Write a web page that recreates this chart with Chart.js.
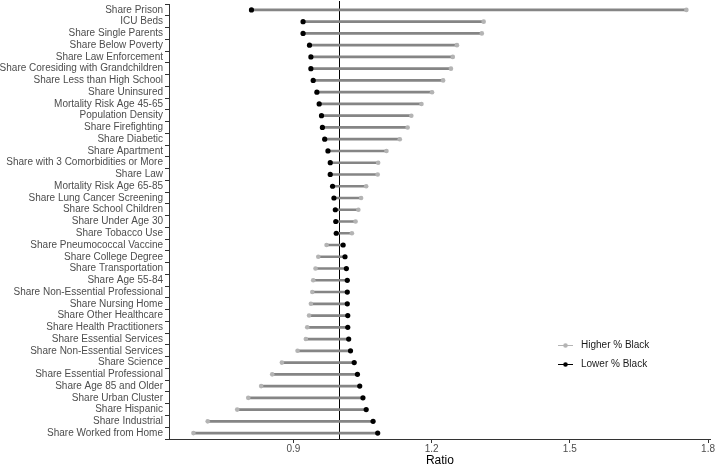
<!DOCTYPE html>
<html>
<head>
<meta charset="utf-8">
<script src="https://cdn.jsdelivr.net/npm/chart.js@4.4.1/dist/chart.umd.min.js"></script>
<style>
  html, body { margin: 0; padding: 0; background: #fff; }
  #wrap { width: 716px; height: 467px; position: relative; }
</style>
</head>
<body>
<div id="wrap"><canvas id="c"></canvas></div>
<script>
// Categorias (de arriba hacia abajo)
const categories = [
  "Share Prison", "ICU Beds", "Share Single Parents", "Share Below Poverty",
  "Share Law Enforcement", "Share Coresiding with Grandchildren", "Share Less than High School",
  "Share Uninsured", "Mortality Risk Age 45-65", "Population Density", "Share Firefighting",
  "Share Diabetic", "Share Apartment", "Share with 3 Comorbidities or More", "Share Law",
  "Mortality Risk Age 65-85", "Share Lung Cancer Screening", "Share School Children",
  "Share Under Age 30", "Share Tobacco Use", "Share Pneumococcal Vaccine", "Share College Degree",
  "Share Transportation", "Share Age 55-84", "Share Non-Essential Professional", "Share Nursing Home",
  "Share Other Healthcare", "Share Health Practitioners", "Share Essential Services",
  "Share Non-Essential Services", "Share Science", "Share Essential Professional",
  "Share Age 85 and Older", "Share Urban Cluster", "Share Hispanic", "Share Industrial",
  "Share Worked from Home"
];

// Ratio, grupo con mayor % de poblacion negra
const higherBlack = [
  1.753, 1.313, 1.309, 1.255, 1.246, 1.242, 1.225, 1.201, 1.178, 1.156, 1.148, 1.131,
  1.102, 1.084, 1.083, 1.058, 1.047, 1.041, 1.035, 1.027, 0.972, 0.954, 0.948, 0.943,
  0.941, 0.938, 0.934, 0.930, 0.927, 0.909, 0.875, 0.854, 0.830, 0.802, 0.778, 0.714, 0.683
];

// Ratio, grupo con menor % de poblacion negra
const lowerBlack = [
  0.809, 0.921, 0.921, 0.935, 0.938, 0.938, 0.943, 0.951, 0.956, 0.961, 0.963, 0.968,
  0.975, 0.980, 0.980, 0.985, 0.988, 0.991, 0.992, 0.993, 1.008, 1.012, 1.015, 1.017,
  1.017, 1.017, 1.018, 1.018, 1.020, 1.024, 1.032, 1.039, 1.044, 1.051, 1.058, 1.073, 1.083
];

const xTicks = [0.9, 1.2, 1.5, 1.8];
const refValue = 1.0;

const FONT = "'Liberation Sans', Arial, sans-serif";
const GREY_PT = "#b4b4b4";
const BLACK_PT = "#000000";

// linea vertical en ratio = 1
const refLine = {
  id: "refLine",
  beforeDatasetsDraw(chart){
    const {ctx, chartArea, scales} = chart;
    const x = Math.round(scales.x.getPixelForValue(refValue)) + 0.5;
    ctx.save();
    ctx.strokeStyle = "#000";
    ctx.lineWidth = 1;
    ctx.beginPath();
    ctx.moveTo(x, chartArea.top - 3);
    ctx.lineTo(x, chartArea.bottom);
    ctx.stroke();
    ctx.restore();
  }
};

// leyenda dentro del panel
const insideLegend = {
  id: "insideLegend",
  afterDraw(chart){
    const {ctx} = chart;
    const items = [
      { label: chart.data.datasets[1].label, color: GREY_PT, y: 345 },
      { label: chart.data.datasets[2].label, color: BLACK_PT, y: 364 }
    ];
    ctx.save();
    items.forEach(it=>{
      ctx.strokeStyle = it.color;
      ctx.lineWidth = 1;
      ctx.beginPath();
      ctx.moveTo(558, it.y + 0.5);
      ctx.lineTo(573, it.y + 0.5);
      ctx.stroke();
      ctx.fillStyle = it.color;
      ctx.beginPath();
      ctx.arc(565.5, it.y + 0.5, 2.3, 0, Math.PI * 2);
      ctx.fill();
      ctx.fillStyle = "#1a1a1a";
      ctx.font = "10px " + FONT;
      ctx.textBaseline = "middle";
      ctx.textAlign = "left";
      ctx.fillText(it.label, 581, it.y + 0.5);
    });
    ctx.restore();
  }
};

new Chart(document.getElementById("c").getContext("2d"), {
  type: "bar",
  data: {
    labels: categories,
    datasets: [
      {
        type: "bar",
        label: "segment",
        indexAxis: "y",
        data: categories.map((_, i)=>[Math.min(lowerBlack[i], higherBlack[i]), Math.max(lowerBlack[i], higherBlack[i])]),
        backgroundColor: "#858585",
        borderWidth: 0,
        barThickness: 2,
        order: 3
      },
      {
        type: "line",
        label: "Higher % Black",
        indexAxis: "y",
        data: higherBlack,
        showLine: false,
        pointRadius: 2.3,
        pointBackgroundColor: GREY_PT,
        pointBorderColor: GREY_PT,
        pointBorderWidth: 0,
        order: 2
      },
      {
        type: "line",
        label: "Lower % Black",
        indexAxis: "y",
        data: lowerBlack,
        showLine: false,
        pointRadius: 2.6,
        pointBackgroundColor: BLACK_PT,
        pointBorderColor: BLACK_PT,
        pointBorderWidth: 0,
        order: 1
      }
    ]
  },
  options: {
    indexAxis: "y",
    responsive: true,
    maintainAspectRatio: false,
    animation: false,
    layout: { padding: { left: 0, right: 4, top: 3, bottom: 0 } },
    plugins: {
      legend: { display: false },
      tooltip: { enabled: false }
    },
    scales: {
      y: {
        type: "category",
        offset: true,
        grid: { display: true, drawOnChartArea: false, drawTicks: true, tickLength: 4, tickColor: "#333" },
        border: { display: true, color: "#333", width: 1 },
        ticks: { color: "#4d4d4d", font: { family: FONT, size: 10 }, padding: 2, autoSkip: false },
        afterFit(scale){
          scale.width = 169;
          scale.paddingTop = 0;
          scale.paddingBottom = 0;
        }
      },
      x: {
        type: "linear",
        min: 0.63,
        max: 1.806,
        afterBuildTicks(scale){ scale.ticks = xTicks.map(v=>({ value: v })); },
        grid: { display: true, drawOnChartArea: false, drawTicks: true, tickLength: 4, tickColor: "#333" },
        border: { display: true, color: "#333", width: 1 },
        ticks: { color: "#4d4d4d", font: { family: FONT, size: 10, lineHeight: 1 }, padding: 1,
                 callback: v => v.toFixed(1) },
        title: { display: true, text: "Ratio", color: "#000", font: { family: FONT, size: 12, lineHeight: 1 }, padding: { top: 0, bottom: 0 } }
      }
    }
  },
  plugins: [refLine, insideLegend]
});
</script>
</body>
</html>
